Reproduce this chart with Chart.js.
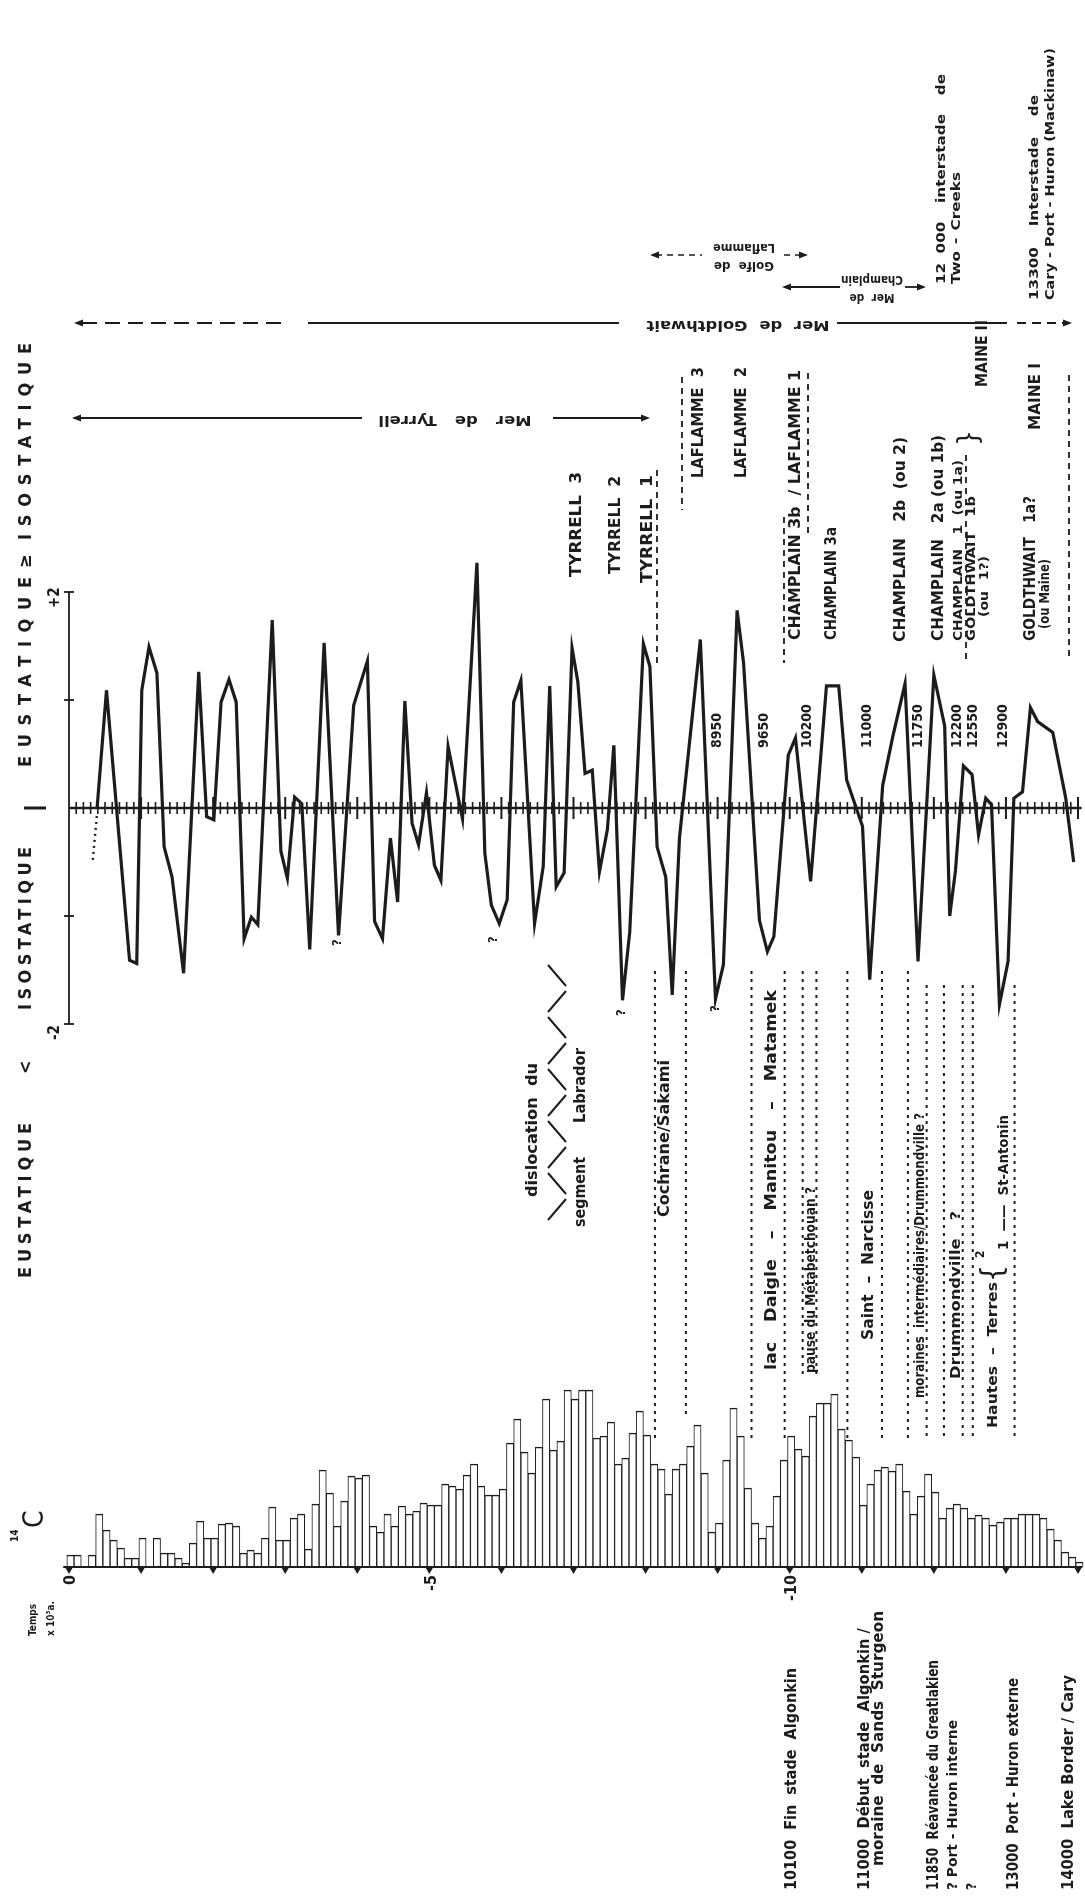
<!DOCTYPE html>
<html lang="fr">
<head>
<meta charset="utf-8">
<title>Eustatique / isostatique et dates 14C</title>
<script src="https://cdn.jsdelivr.net/npm/chart.js@4.4.1/dist/chart.umd.min.js"></script>
<style>
  html, body { margin: 0; padding: 0; background: #fff; }
  #wrap { width: 1085px; height: 1897px; }
</style>
</head>
<body>
<div id="wrap"><canvas id="chart" width="1085" height="1897"></canvas></div>
<script>
// 14C histogram: one bar per 100 years, from 0 to -14 000 a
const histCounts = [12,12,0,12,53,37,27,19,9,9,29,0,29,14,14,9,4,24,46,29,29,43,44,41,14,17,14,29,60,27,27,49,53,18,63,97,74,41,66,91,89,92,41,35,53,41,61,53,56,64,62,62,83,81,78,92,103,81,72,72,78,124,148,115,94,120,168,117,126,177,168,177,177,129,131,145,103,109,134,156,132,103,98,73,98,103,121,142,94,35,44,107,159,131,79,44,29,41,71,107,131,118,111,151,164,164,173,138,127,110,62,83,97,100,96,103,76,53,71,93,75,49,59,63,59,49,52,49,42,45,49,49,53,53,53,49,38,27,15,10,5];
const histAgeKa = histCounts.map((_, i) => +(i * 0.1 + 0.02).toFixed(2));

// eustatique / isostatique curve (ka, relative units -2..+2)
const curveAgeKa = [0.39,0.52,0.84,0.94,1.01,1.11,1.22,1.32,1.43,1.59,1.80,1.91,2.01,2.11,2.22,2.32,2.43,2.53,2.62,2.82,2.94,3.03,3.13,3.23,3.34,3.54,3.74,3.95,4.14,4.24,4.35,4.46,4.56,4.66,4.76,4.85,4.96,5.07,5.16,5.26,5.46,5.66,5.77,5.86,5.97,6.08,6.17,6.27,6.46,6.58,6.67,6.76,6.87,6.98,7.06,7.16,7.26,7.36,7.47,7.56,7.68,7.78,7.97,8.06,8.16,8.28,8.37,8.47,8.76,8.97,9.08,9.27,9.36,9.58,9.69,9.78,9.98,10.08,10.29,10.51,10.68,10.79,11.01,11.11,11.29,11.43,11.60,11.78,12.00,12.15,12.22,12.30,12.41,12.53,12.62,12.72,12.80,12.91,13.03,13.11,13.23,13.34,13.44,13.65,13.83,13.94];
const curveValue = [0,1.09,-1.41,-1.44,1.09,1.49,1.25,-0.36,-0.64,-1.53,1.26,-0.08,-0.11,0.98,1.19,0.98,-1.21,-1.01,-1.08,1.74,-0.40,-0.65,0.10,0.04,-1.31,1.53,-1.18,0.95,1.36,-1.05,-1.21,-0.28,-0.87,0.99,-0.14,-0.34,0.14,-0.53,-0.67,0.57,-0.10,2.27,-0.42,-0.90,-1.07,-0.85,0.98,1.18,-1.07,-0.54,1.13,-0.73,-0.60,1.48,1.17,0.32,0.35,-0.59,-0.20,0.58,-1.78,-1.15,1.52,1.31,-0.36,-0.64,-1.73,-0.28,1.56,-1.77,-1.45,1.83,1.34,-1.04,-1.33,-1.19,0.49,0.65,-0.68,1.13,1.13,0.26,-0.17,-1.59,0.21,0.66,1.15,-1.42,1.23,0.76,-1.00,-0.58,0.39,0.31,-0.25,0.09,0.03,-1.82,-1.42,0.09,0.15,0.93,0.80,0.70,0.09,-0.50];
const leadAgeKa = [0.33, 0.39];
const leadValue = [-0.48, -0.05];

// axes
const timeTickAges = [0,1,2,3,4,5,6,7,8,9,10,11,12,13,14];
const timeLabelAges = [0, 5, 10];
const timeLabels = ['0', '-5', '-10'];
const valueLabelValues = [2, -2];
const valueLabels = ['+2', '-2'];

// dated events and boundaries (ka)
const dateAgesKa = [8.99, 9.65, 10.25, 11.08, 11.79, 12.32, 12.55, 12.97];
const dateLabels = ['8950', '9650', '10200', '11000', '11750', '12200', '12550', '12900'];
const boundaryAgesKa = [8.13, 8.56, 9.47, 9.93, 10.18, 10.37, 10.80, 11.28, 11.64, 11.90, 12.14, 12.40, 12.54, 13.12];

const INK = '#1c1c1c';
const NARROW = '"Liberation Sans Narrow", "DejaVu Sans Condensed", "Liberation Sans", Arial, sans-serif';
const font = (size, style) => (style || 'bold') + ' ' + size + 'px ' + NARROW;

// stretch a string to a target length; spaced = letter-spaced capitals
function fit(ctx, str, len, spaced) {
  if (!len) return;
  const w = ctx.measureText(str).width;
  if (!w) return;
  if (spaced && 'letterSpacing' in ctx && str.length > 1) {
    ctx.letterSpacing = ((len - w) / (str.length - 1)) + 'px';
    return;
  }
  let k = len / w;
  if (k > 1.3) {
    k = 1.3;
    const extra = len / k - w;
    const spaces = (str.match(/ /g) || []).length;
    if (spaces && 'wordSpacing' in ctx) ctx.wordSpacing = (extra / spaces) + 'px';
    else if ('letterSpacing' in ctx && str.length > 1) ctx.letterSpacing = (extra / (str.length - 1)) + 'px';
  }
  ctx.scale(k, 1);
}

// text reading bottom-to-top, starting at yBottom
function vText(ctx, str, x, yBottom, size, len, style, align, spaced) {
  ctx.save();
  ctx.translate(x, yBottom);
  ctx.rotate(-Math.PI / 2);
  ctx.font = font(size, style);
  ctx.fillStyle = INK;
  ctx.textAlign = align || 'left';
  ctx.textBaseline = 'middle';
  fit(ctx, str, len, spaced);
  ctx.fillText(str, 0, 0);
  ctx.restore();
}

// upside-down text
function flipText(ctx, str, cx, cy, size, len) {
  ctx.save();
  ctx.translate(cx, cy);
  ctx.rotate(Math.PI);
  ctx.font = font(size);
  ctx.fillStyle = INK;
  ctx.textAlign = 'center';
  ctx.textBaseline = 'middle';
  fit(ctx, str, len);
  ctx.fillText(str, 0, 0);
  ctx.restore();
}

function seg(ctx, x1, y1, x2, y2, w, dash) {
  ctx.save();
  ctx.lineWidth = w || 1.8;
  ctx.strokeStyle = INK;
  ctx.setLineDash(dash || []);
  ctx.beginPath();
  ctx.moveTo(x1, y1);
  ctx.lineTo(x2, y2);
  ctx.stroke();
  ctx.restore();
}

function arrowHead(ctx, tipX, y, dir) {
  ctx.beginPath();
  ctx.moveTo(tipX, y);
  ctx.lineTo(tipX - dir * 9, y - 3.5);
  ctx.lineTo(tipX - dir * 9, y + 3.5);
  ctx.closePath();
  ctx.fill();
}

const titles = [
  ['EUSTATIQUE', 26, 1278, 18, 155],
  ['ISOSTATIQUE', 26, 1010, 18, 163],
  ['EUSTATIQUE', 26, 767, 18, 190],
  ['ISOSTATIQUE', 26, 540, 18, 197]
];

const labels = [
  ['<', 26, 1074, 18, 0],
  ['\u2265', 26, 568, 18, 0],
  ['Temps', 33, 1636, 10, 0],
  ['x 10\u00b3a.', 51, 1636, 10, 0],
  ['14', 15, 1542, 10, 0],
  ['C', 36, 1528, 28, 0, 'normal'],
  // stages
  ['TYRRELL  3', 577, 577, 16, 105],
  ['TYRRELL  2', 616, 574, 16, 98],
  ['TYRRELL  1', 648, 583, 16, 108],
  ['LAFLAMME  3', 699, 478, 16, 111],
  ['LAFLAMME  2', 742, 478, 16, 111],
  ['CHAMPLAIN 3b  / LAFLAMME 1', 796, 640, 16, 270],
  ['CHAMPLAIN 3a', 832, 640, 16, 113],
  ['CHAMPLAIN   2b  (ou 2)', 901, 642, 16, 205],
  ['CHAMPLAIN   2a (ou 1b)', 939, 641, 16, 206],
  ['CHAMPLAIN   1  (ou 1a)', 959, 641, 13, 181],
  ['GOLDTHWAIT   1b', 972, 641, 13, 145],
  ['(ou 1?)', 985, 617, 12, 61],
  ['}', 971, 446, 28, 0, 'normal'],
  ['MAINE II', 983, 387, 16, 67],
  ['GOLDTHWAIT   1a?', 1031, 641, 16, 145],
  ['(ou Maine)', 1045, 629, 14, 70],
  ['MAINE I', 1036, 430, 16, 67],
  // top right
  ['12 000  interstade  de', 942, 284, 13, 210],
  ['Two - Creeks', 957, 284, 13, 112],
  ['13300  Interstade  de', 1035, 300, 13, 205],
  ['Cary - Port - Huron (Mackinaw)', 1051, 300, 13, 252],
  // middle
  ['dislocation  du', 533, 1197, 15, 134],
  ['segment', 581, 1227, 15, 70],
  ['Labrador', 581, 1123, 15, 75],
  ['Cochrane/Sakami', 665, 1217, 15, 157],
  ['lac  Daigle  \u2013  Manitou  \u2013  Matamek', 772, 1370, 15, 380],
  ['pause du M\u00e9tabetchouan ?', 811, 1373, 14, 186],
  ['Saint  \u2013  Narcisse', 869, 1340, 15, 150],
  ['moraines  interm\u00e9diaires/Drummondville ?', 920, 1398, 14, 285],
  ['Drummondville ?', 956, 1379, 14, 168],
  ['Hautes  \u2013  Terres', 993, 1428, 14, 146],
  ['{', 994, 1282, 30, 0, 'normal'],
  ['2', 981, 1258, 12, 0],
  ['1  \u2014\u2014  St-Antonin', 1004, 1250, 14, 135],
  ['?', 338, 946, 13, 0],
  ['?', 494, 943, 13, 0],
  ['?', 622, 1016, 13, 0],
  ['?', 716, 1012, 13, 0],
  // bottom
  ['10100  Fin  stade  Algonkin', 792, 1890, 15, 222],
  ['11000  D\u00e9but  stade  Algonkin /', 865, 1890, 15, 262],
  ['moraine  de  Sands  Sturgeon', 879, 1866, 15, 255],
  ['11850  R\u00e9avanc\u00e9e du Greatlakien', 934, 1890, 15, 230],
  ['? Port - Huron interne', 953, 1890, 14, 170],
  ['?', 972, 1890, 14, 0],
  ['13000  Port - Huron externe', 1014, 1890, 15, 212],
  ['14000  Lake Border / Cary', 1069, 1890, 15, 215]
];

const annot = {
  id: 'annot',
  beforeDatasetsDraw(chart) {
    const xs = chart.scales.x;
    // dotted boundaries from the curve down to the histogram
    boundaryAgesKa.forEach(a => {
      const x = xs.getPixelForValue(a);
      const top = a < 11.8 ? 971 : 985;
      const bottom = (a > 10.1 && a < 10.5) ? 1379 : (a > 8.4 && a < 8.7 ? 1418 : 1438);
      seg(chart.ctx, x, top, x, bottom, 2, [3, 5]);
    });
  },
  afterDatasetsDraw(chart) {
    const ctx = chart.ctx;
    const xs = chart.scales.x, yv = chart.scales.yv, yh = chart.scales.yh;
    const X = a => xs.getPixelForValue(a);
    ctx.save();
    ctx.fillStyle = INK;

    // value axis
    const xa = X(0);
    seg(ctx, xa, yv.getPixelForValue(2), xa, yv.getPixelForValue(-2), 1.8);
    [2, 1, -1, -2].forEach(v => {
      const p = yv.getPixelForValue(v);
      seg(ctx, xa - 5, p, xa + 5, p, 1.8);
    });
    valueLabelValues.forEach((v, i) => vText(ctx, valueLabels[i], xa - 14, yv.getPixelForValue(v) + 16, 15, 0));

    // zero line with century ticks
    const y0 = yv.getPixelForValue(0);
    seg(ctx, xa, y0, X(14.05), y0, 2.6);
    for (let k = 1; k <= 140; k++) {
      const x = X(k / 10), big = k % 10 === 0, h = big ? 11 : 6;
      seg(ctx, x, y0 - h, x, y0 + h, big ? 2 : 1.6);
    }
    seg(ctx, 24, y0, 46, y0, 3);

    // time axis
    const yb = yh.getPixelForValue(0);
    seg(ctx, X(-0.08), yb, X(14.06), yb, 2.2);
    timeTickAges.forEach(a => {
      const x = X(a);
      ctx.beginPath();
      ctx.moveTo(x - 3.5, yb + 1);
      ctx.lineTo(x + 3.5, yb + 1);
      ctx.lineTo(x, yb + 7);
      ctx.closePath();
      ctx.fill();
    });
    timeLabelAges.forEach((a, i) => vText(ctx, timeLabels[i], X(a) + 2, 1575, 16, 0, 'bold', 'right'));

    // sample dates
    dateAgesKa.forEach((a, i) => vText(ctx, dateLabels[i], X(a), 748, 14, 0));

    // dashed stage markers
    [[657, 470, 663], [682, 377, 510], [784, 517, 663], [808, 373, 533], [966, 455, 659], [1069, 375, 660]]
      .forEach(d => seg(ctx, d[0], d[1], d[0], d[2], 1.8, [6, 5]));

    // dislocation symbol
    for (let i = 0; i < 10; i++) {
      const yA = 1220 - i * 26, yB = yA - 21;
      if (i % 2 === 0) seg(ctx, 548, yA, 566, yB, 2);
      else seg(ctx, 566, yA, 548, yB, 2);
    }

    // sea / gulf extents
    seg(ctx, 74, 418, 362, 418, 1.8); arrowHead(ctx, 72, 418, -1);
    seg(ctx, 553, 418, 648, 418, 1.8); arrowHead(ctx, 650, 418, 1);
    flipText(ctx, 'Mer  de  Tyrrell', 455, 420, 14, 153);

    arrowHead(ctx, 74, 323, -1);
    seg(ctx, 82, 323, 287, 323, 1.8, [15, 8]);
    seg(ctx, 308, 323, 619, 323, 1.8);
    seg(ctx, 837, 323, 1007, 323, 1.8);
    seg(ctx, 1017, 323, 1064, 323, 1.8, [9, 6]);
    arrowHead(ctx, 1072, 323, 1);
    flipText(ctx, 'Mer  de  Goldthwait', 738, 325, 14, 183);

    arrowHead(ctx, 650, 255, -1);
    seg(ctx, 656, 255, 702, 255, 1.6, [6, 5]);
    seg(ctx, 784, 255, 802, 255, 1.6, [6, 5]);
    arrowHead(ctx, 808, 255, 1);
    flipText(ctx, 'Golfe  de', 744, 265, 13, 60);
    flipText(ctx, 'Laflamme', 744, 247, 13, 62);

    arrowHead(ctx, 782, 287, -1);
    seg(ctx, 788, 287, 840, 287, 1.8);
    seg(ctx, 905, 287, 920, 287, 1.8);
    arrowHead(ctx, 926, 287, 1);
    flipText(ctx, 'Mer  de', 872, 297, 13, 45);
    flipText(ctx, 'Champlain', 872, 279, 13, 62);

    titles.forEach(t => vText(ctx, t[0], t[1], t[2], t[3], t[4], 'bold', 'left', true));
    labels.forEach(l => vText(ctx, l[0], l[1], l[2], l[3], l[4], l[5]));
    ctx.restore();
  }
};

new Chart(document.getElementById('chart'), {
  type: 'bar',
  data: {
    datasets: [
      {
        type: 'line',
        label: 'Eustatique / isostatique',
        data: curveAgeKa.map((a, i) => ({ x: a, y: curveValue[i] })),
        xAxisID: 'x', yAxisID: 'yv',
        borderColor: INK, borderWidth: 3.2, borderJoinStyle: 'miter',
        pointRadius: 0, tension: 0, clip: false
      },
      {
        type: 'line',
        label: 'amorce',
        data: leadAgeKa.map((a, i) => ({ x: a, y: leadValue[i] })),
        xAxisID: 'x', yAxisID: 'yv',
        borderColor: INK, borderWidth: 2.4, borderDash: [2, 4],
        pointRadius: 0, clip: false
      },
      {
        type: 'bar',
        label: '14C',
        data: histAgeKa.map((a, i) => ({ x: a, y: histCounts[i] || null })),
        xAxisID: 'x', yAxisID: 'yh',
        backgroundColor: '#ffffff', borderColor: INK,
        borderWidth: { top: 1.6, left: 1, right: 1, bottom: 0 },
        barPercentage: 1, categoryPercentage: 1, clip: false
      }
    ]
  },
  options: {
    responsive: false,
    animation: false,
    events: [],
    layout: { padding: { left: 69, right: 7, top: 0, bottom: 0 } },
    scales: {
      x: { type: 'linear', min: 0, max: 14, display: false, offset: false },
      yv: { type: 'linear', min: -10.083, max: 7.481, display: false },
      yh: { type: 'linear', min: -330, max: 1567, display: false }
    },
    plugins: { legend: { display: false }, tooltip: { enabled: false } }
  },
  plugins: [annot]
});
</script>
</body>
</html>
